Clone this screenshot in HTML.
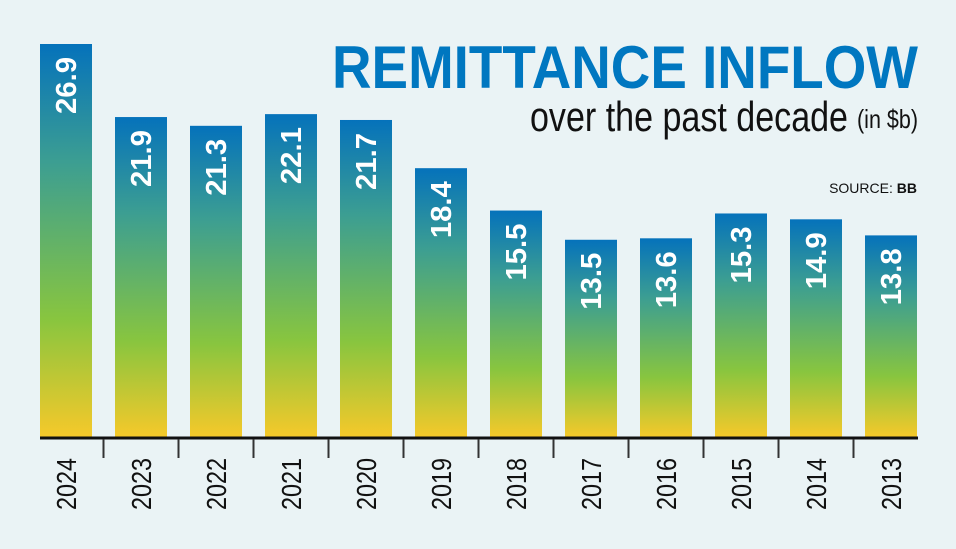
<!DOCTYPE html>
<html><head><meta charset="utf-8"><style>
html,body{margin:0;padding:0;background:#eaf3f5;}
svg{display:block;}
</style></head><body>
<svg id="chart" width="956" height="549" viewBox="0 0 956 549" xmlns="http://www.w3.org/2000/svg">
<defs>
<linearGradient id="bg" x1="0" y1="0" x2="0" y2="1">
<stop offset="0" stop-color="#0572bb"/>
<stop offset="0.3" stop-color="#3c9e92"/>
<stop offset="0.7" stop-color="#88c53f"/>
<stop offset="1" stop-color="#f6c92a"/>
</linearGradient>
</defs>
<rect width="956" height="549" fill="#eaf3f5"/>
<text x="918" y="88" text-anchor="end" font-family="Liberation Sans Narrow, Liberation Sans, sans-serif" font-weight="bold" font-size="60" fill="#0077c0" textLength="586" lengthAdjust="spacingAndGlyphs">REMITTANCE INFLOW</text>
<text x="848" y="131" text-anchor="end" font-family="Liberation Sans Narrow, Liberation Sans, sans-serif" font-size="42" fill="#111" textLength="318" lengthAdjust="spacingAndGlyphs">over the past decade</text>
<text x="918" y="128" text-anchor="end" font-family="Liberation Sans Narrow, Liberation Sans, sans-serif" font-size="26" fill="#111" textLength="61" lengthAdjust="spacingAndGlyphs">(in $b)</text>
<text x="917" y="193" text-anchor="end" font-family="Liberation Sans, sans-serif" font-size="14" fill="#111">SOURCE: <tspan font-weight="bold">BB</tspan></text>
<g id="bars"></g>
<line x1="40" x2="918" y1="438" y2="438" stroke="#111" stroke-width="3"/>
<g id="xaxis"></g>
</svg>
<script>
const years = ["2024","2023","2022","2021","2020","2019","2018","2017","2016","2015","2014","2013"];
const values = [26.9,21.9,21.3,22.1,21.7,18.4,15.5,13.5,13.6,15.3,14.9,13.8];
const valueLabels = ["26.9","21.9","21.3","22.1","21.7","18.4","15.5","13.5","13.6","15.3","14.9","13.8"];
const NS="http://www.w3.org/2000/svg";
const baseY=437, pxPer=393/26.9, x0=40, step=75, bw=52;
const xPos=i=>x0+i*step;
const yPos=v=>baseY-v*pxPer;
const bars=document.getElementById('bars'), xa=document.getElementById('xaxis');
years.forEach((yr,i)=>{
  const x=xPos(i), y=yPos(values[i]);
  const r=document.createElementNS(NS,'rect');
  
  
  r.setAttribute('x',x);r.setAttribute('y',y);r.setAttribute('width',bw);r.setAttribute('height',baseY-y);
  r.setAttribute('fill','url(#bg)');
  bars.appendChild(r);
  const t=document.createElementNS(NS,'text');
  
  
  const cx=x+bw/2, ty=y+13;
  t.setAttribute('transform','translate('+(cx+10)+','+ty+') rotate(-90)');
  t.setAttribute('text-anchor','end');
  t.setAttribute('font-family','Liberation Sans, sans-serif');
  t.setAttribute('font-weight','bold');t.setAttribute('font-size','29');t.setAttribute('fill','#fff');
  t.setAttribute('textLength','57');t.setAttribute('lengthAdjust','spacingAndGlyphs');
  t.textContent=valueLabels[i];
  bars.appendChild(t);
  const l=document.createElementNS(NS,'text');
  
  
  l.setAttribute('transform','translate('+(cx+10)+',458) rotate(-90)');
  l.setAttribute('text-anchor','end');
  l.setAttribute('font-family','Liberation Sans Narrow, Liberation Sans, sans-serif');
  l.setAttribute('font-size','28');l.setAttribute('fill','#111');
  l.setAttribute('textLength','52');l.setAttribute('lengthAdjust','spacingAndGlyphs');
  l.textContent=yr;
  xa.appendChild(l);
  if(i<years.length-1){
    const tk=document.createElementNS(NS,'line');
    
    
    const tx=x+bw+11.5;
    tk.setAttribute('x1',tx);tk.setAttribute('x2',tx);tk.setAttribute('y1',439);tk.setAttribute('y2',458);
    tk.setAttribute('stroke','#333');tk.setAttribute('stroke-width','2');
    xa.appendChild(tk);
  }
});
</script>
</body></html>
